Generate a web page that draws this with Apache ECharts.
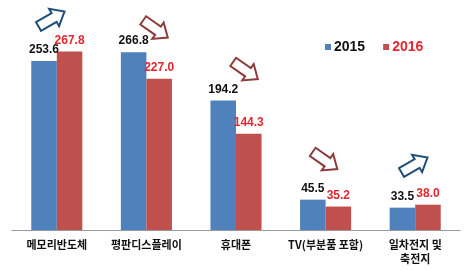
<!DOCTYPE html>
<html><head><meta charset="utf-8">
<script src="https://cdn.jsdelivr.net/npm/echarts@6/dist/echarts.min.js"></script>
<style>html,body{margin:0;padding:0;background:#fff}#c{width:472px;height:270px}</style>
</head><body><div id="c"></div>
<script>
var categories = ['메모리반도체', '평판디스플레이', '휴대폰', 'TV(부분품 포함)', '일차전지 및\n축전지'];
var values2015 = [253.6, 266.8, 194.2, 45.5, 33.5];
var values2016 = [267.8, 227.0, 144.3, 35.2, 38.0];
var seriesNames = ['2015', '2016'];

var chart = echarts.init(document.getElementById('c'));
function arrow(cx, cy, rot, color) {
  return {
    type: 'polygon', x: cx, y: cy, rotation: rot * Math.PI / 180,
    shape: { points: [[-15,-5],[3,-5],[3,-10],[15,0],[3,10],[3,5],[-15,5]] },
    style: { fill: '#fff', stroke: color, lineWidth: 2 }
  };
}
var blueA = '#1f4e79', redA = '#8e3b3b';
chart.setOption({
  animation: false,
  grid: { left: 12, right: 12, top: 30, bottom: 40 },
  legend: {
    data: [
      { name: seriesNames[0], textStyle: { color: '#111' } },
      { name: seriesNames[1], textStyle: { color: '#e3262f' } }
    ],
    left: 320, top: 35, itemWidth: 6, itemHeight: 6, itemGap: 18,
    textStyle: { fontFamily: 'Liberation Sans', fontWeight: 'bold', fontSize: 14, padding: [0,0,0,-2] },
    icon: 'rect'
  },
  xAxis: {
    type: 'category', data: categories,
    axisLine: { lineStyle: { color: '#9a9a9a', width: 1 } },
    axisTick: { show: false },
    axisLabel: { color: '#111', fontFamily: 'Noto Sans CJK KR', fontWeight: 'bold', fontSize: 11, margin: 8, lineHeight: 14, interval: 0 }
  },
  yAxis: { type: 'value', min: 0, max: 300, show: false, splitLine: { show: false } },
  series: [
    { name: seriesNames[0], type: 'bar', data: values2015, barGap: '0%', barCategoryGap: '43%',
      itemStyle: { color: '#4f81bd' },
      label: { show: true, position: 'top', distance: 5, color: '#111', fontFamily: 'Liberation Sans', fontWeight: 'bold', fontSize: 12, formatter: function(p){return p.value.toFixed(1);} } },
    { name: seriesNames[1], type: 'bar', data: values2016,
      itemStyle: { color: '#c0504d' },
      label: { show: true, position: 'top', distance: 5, color: '#e3262f', fontFamily: 'Liberation Sans', fontWeight: 'bold', fontSize: 12, formatter: function(p){return p.value.toFixed(1);} } }
  ],
  graphic: [
    arrow(51.5, 19, 30, blueA),
    arrow(155.5, 29, -35, redA),
    arrow(245.5, 70.5, -35, redA),
    arrow(325, 160.5, -35, redA),
    arrow(414.5, 165, 30, blueA)
  ]
});
</script></body></html>
